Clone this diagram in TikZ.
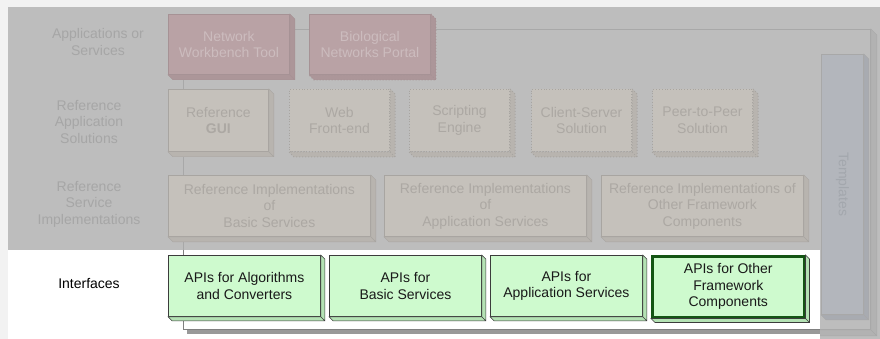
\documentclass[tikz,border=0pt]{standalone}
\usepackage{fontspec}
\setmainfont{Liberation Sans}
\usepackage{tikz}
\usetikzlibrary{positioning, calc}
\definecolor{pagebg}{RGB}{242,242,242}
\definecolor{veil}{RGB}{189,189,189}
\definecolor{veilline}{RGB}{168,168,168}
\definecolor{veildepth}{RGB}{178,178,178}
\definecolor{veiltext}{RGB}{166,166,166}
\definecolor{appfill}{RGB}{185,162,165}
\definecolor{appdepth}{RGB}{172,150,153}
\definecolor{appline}{RGB}{166,146,149}
\definecolor{apptext}{RGB}{204,188,190}
\definecolor{solfill}{RGB}{197,193,187}
\definecolor{soldepth}{RGB}{184,180,175}
\definecolor{solline}{RGB}{168,165,161}
\definecolor{soltext}{RGB}{172,168,163}
\definecolor{tplfill}{RGB}{179,182,188}
\definecolor{tpldepth}{RGB}{168,171,177}
\definecolor{tpltext}{RGB}{163,167,173}
\definecolor{apifill}{RGB}{206,250,206}
\definecolor{apidepth}{RGB}{180,226,180}
\definecolor{apiline}{RGB}{60,60,60}
\definecolor{apidark}{RGB}{20,85,20}

% depth faces of a box (node, style)
\newcommand\extrude[3][5]{%
  \filldraw[#3] (#2.north east) -- ++(#1,#1) -- ($(#2.south east)+(#1,#1)$)
    -- ($(#2.south west)+(#1,#1)$) -- (#2.south west) -- (#2.south east) -- cycle
    (#2.south east) -- ++(#1,#1);
}

\begin{document}
\begin{tikzpicture}[x=1pt, y=-1pt,
  every node/.style={inner sep=0pt, align=center, font=\fontsize{14}{16.5}\selectfont},
  block/.style={anchor=north west, line width=0.8pt},
  app/.style={block, draw=appline, fill=appfill, text=apptext, minimum width=121, minimum height=60},
  sol/.style={block, draw=solline, fill=solfill, text=soltext, minimum width=100, minimum height=62},
  impl/.style={block, draw=solline, fill=solfill, text=soltext, minimum width=202, minimum height=61},
  api/.style={block, draw=apiline, fill=apifill, text=black!90, minimum width=152, minimum height=61},
  planned/.style={dotted, line width=1pt},
  rowlbl/.style={text=veiltext}
]
  \useasboundingbox (0,0) rectangle (880,339);
  \fill[pagebg] (0,0) rectangle (880,339);
  \fill[veil] (8,7) rectangle (880,339);

  % Framework frame and templates
  \node[block, draw=veilline, minimum width=687, minimum height=300] (fw) at (183,29) {};
  \extrude[6]{fw}{fill=veildepth, draw=veilline}
  \node[block, draw=veilline, fill=tplfill, minimum width=42, minimum height=260] (tpl) at (821,54) {};
  \extrude{tpl}{fill=tpldepth, draw=veilline}
  \node[text=tpltext, rotate=-90] (tpltxt) at (tpl.center) {Templates};

  % Interfaces band
  \node[anchor=north west, fill=white, minimum width=812, minimum height=89] (band) at (8,250) {};
  \fill[black!40] ($(fw.south west)+(4,0)$) rectangle ($(fw.south west -| band.east)+(0,4)$);
  \draw[black!50, line width=0.8pt] (fw.west |- band.north) -- (fw.south west) -- (fw.south west -| band.east);

  % Row labels
  \node[rowlbl] (lapp) at (98,42) {Applications or\\Services};
  \node[rowlbl] (lsol) at (89,122) {Reference\\Application\\Solutions};
  \node[rowlbl] (limpl) at (89,204) {Reference\\Service\\Implementations};
  \node[text=black] (lapi) at (89,284) {Interfaces};

  % Applications or services
  \node[app] (nwb) at (168,14) {Network\\Workbench Tool};
  \extrude{nwb}{fill=appdepth, draw=appline}
  \node[app] (bnp) at (309,14) {Biological\\Networks Portal};
  \extrude{bnp}{fill=appdepth, draw=appline, planned}

  % Reference application solutions
  \node[sol] (gui) at (168,89) {Reference\\\textbf{GUI}};
  \extrude{gui}{fill=soldepth, draw=solline}
  \node[sol, planned] (web) at (289,89) {Web\\Front-end};
  \extrude{web}{fill=soldepth, draw=solline, planned}
  \node[sol, planned] (script) at (409,89) {Scripting\\Engine};
  \extrude{script}{fill=soldepth, draw=solline, planned}
  \node[sol, planned] (cs) at (531,89) {Client-Server\\Solution};
  \extrude{cs}{fill=soldepth, draw=solline, planned}
  \node[sol, planned] (p2p) at (652,89) {Peer-to-Peer\\Solution};
  \extrude{p2p}{fill=soldepth, draw=solline, planned}

  % Reference service implementations
  \node[impl] (basic) at (168,175) {Reference Implementations\\of\\Basic Services};
  \extrude{basic}{fill=soldepth, draw=solline}
  \node[impl] (appsvc) at (384,175) {Reference Implementations\\of\\Application Services};
  \extrude{appsvc}{fill=soldepth, draw=solline}
  \node[impl] (other) at (601,175) {Reference Implementations of\\Other Framework\\Components};
  \extrude{other}{fill=soldepth, draw=solline}

  % Interfaces
  \node[api] (algo) at (168,255) {APIs for Algorithms\\and Converters};
  \extrude[4]{algo}{fill=apidepth, draw=apiline, line width=0.6pt}
  \node[api] (bapi) at (329,255) {APIs for\\Basic Services};
  \extrude[4]{bapi}{fill=apidepth, draw=apiline, line width=0.6pt}
  \node[api] (aapi) at (490,255) {APIs for\\Application Services};
  \extrude[4]{aapi}{fill=apidepth, draw=apiline, line width=0.6pt}
  \node[api, draw=apidark, line width=2.5pt] (oapi) at (651,255) {APIs for Other\\Framework\\Components};
  \extrude[4]{oapi}{fill=apidepth, draw=apiline, line width=0.6pt}
\end{tikzpicture}
\end{document}
